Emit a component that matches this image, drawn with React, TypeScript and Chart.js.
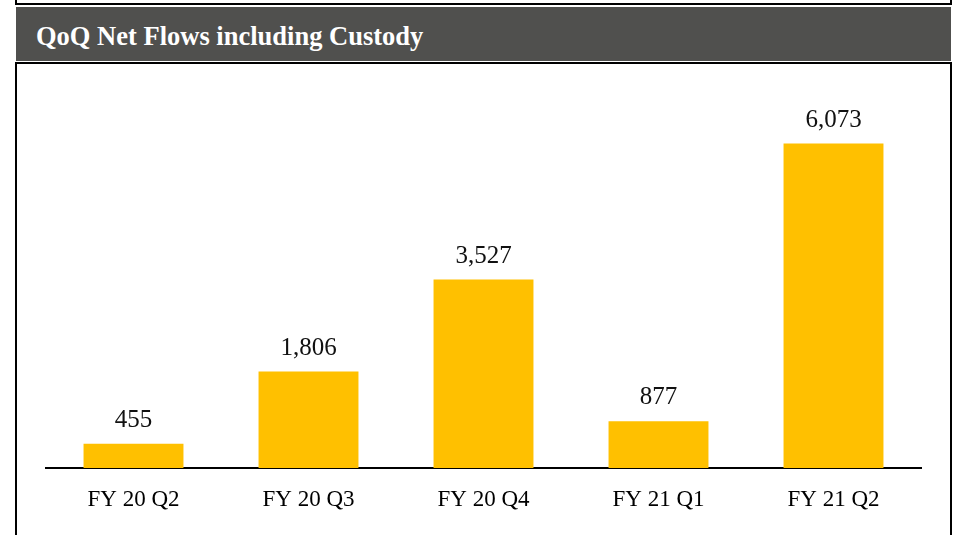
import React, { useEffect, useRef } from "react";
import { Chart, registerables } from "chart.js";

Chart.register(...registerables);

const title = "QoQ Net Flows including Custody";
const categories = ["FY 20 Q2", "FY 20 Q3", "FY 20 Q4", "FY 21 Q1", "FY 21 Q2"];
const netFlows = [455, 1806, 3527, 877, 6073];
const valueLabels = ["455", "1,806", "3,527", "877", "6,073"];
const yMin = 0;
const yMax = 7000;

const barColor = "#FFC000";
const serif = "'Liberation Serif', 'Times New Roman', serif";

const valueLabelPlugin = {
  id: "valueLabels",
  afterDatasetsDraw(chart: any) {
    const ctx = chart.ctx;
    const meta = chart.getDatasetMeta(0);
    ctx.save();
    ctx.font = `25px ${serif}`;
    ctx.fillStyle = "#111111";
    ctx.textAlign = "center";
    ctx.textBaseline = "alphabetic";
    meta.data.forEach((bar: any, i: number) => {
      ctx.fillText(valueLabels[i], bar.x, bar.y - 17);
    });
    ctx.restore();
  },
};

export default function App() {
  const canvasRef = useRef<HTMLCanvasElement | null>(null);

  useEffect(() => {
    if (!canvasRef.current) return;
    const chart = new Chart(canvasRef.current, {
      type: "bar",
      data: {
        labels: categories,
        datasets: [
          {
            data: netFlows,
            backgroundColor: barColor,
            borderWidth: 0,
            categoryPercentage: 1,
            barPercentage: 0.571,
          },
        ],
      },
      options: {
        responsive: false,
        animation: false,
        devicePixelRatio: 1,
        layout: { padding: { left: 30, right: 29, top: 30, bottom: 0 } },
        plugins: {
          legend: { display: false },
          tooltip: { enabled: false },
          title: { display: false },
        },
        scales: {
          x: {
            grid: { display: false, drawTicks: false },
            border: { display: true, color: "#000000", width: 2 },
            ticks: {
              color: "#000000",
              font: { family: serif, size: 23 },
              padding: 18,
              maxRotation: 0,
            },
            afterFit: (scale: any) => {
              scale.height = 67;
            },
          },
          y: {
            display: false,
            min: yMin,
            max: yMax,
          },
        },
      },
      plugins: [valueLabelPlugin],
    });
    return () => chart.destroy();
  }, []);

  return (
    <div
      style={{
        position: "absolute",
        left: 0,
        top: 0,
        width: 955,
        height: 535,
        overflow: "hidden",
        background: "#ffffff",
      }}
    >
      <div
        style={{
          position: "absolute",
          left: 15,
          top: -10,
          width: 937,
          height: 15,
          boxSizing: "border-box",
          border: "2px solid #000",
        }}
      />
      <div
        style={{
          position: "absolute",
          left: 16,
          top: 7,
          width: 935,
          height: 54,
          background: "#50504E",
        }}
      />
      <div
        style={{
          position: "absolute",
          left: 36,
          top: 23,
          fontFamily: serif,
          fontWeight: "bold",
          fontSize: "26.5px",
          lineHeight: "26.5px",
          color: "#ffffff",
          whiteSpace: "nowrap",
        }}
      >
        {title}
      </div>
      <div
        style={{
          position: "absolute",
          left: 15,
          top: 62,
          width: 937,
          height: 500,
          boxSizing: "border-box",
          border: "2px solid #000",
        }}
      />
      <canvas
        ref={canvasRef}
        width={934}
        height={471}
        style={{ position: "absolute", left: 16, top: 64, width: 934, height: 471 }}
      />
    </div>
  );
}
